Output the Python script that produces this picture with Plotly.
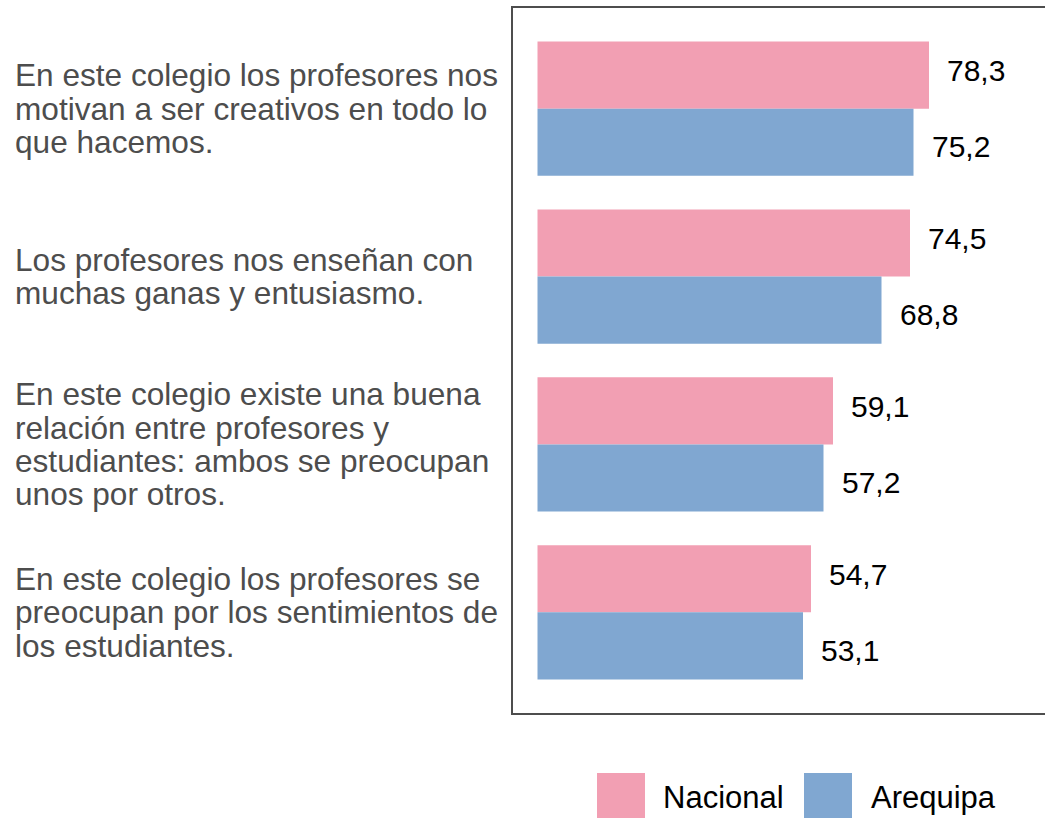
import plotly.graph_objects as go

# Survey items (wrapped lines joined with <br>)
categories = [
    "En este colegio los profesores nos<br>motivan a ser creativos en todo lo<br>que hacemos.",
    "Los profesores nos enseñan con<br>muchas ganas y entusiasmo.",
    "En este colegio existe una buena<br>relación entre profesores y<br>estudiantes: ambos se preocupan<br>unos por otros.",
    "En este colegio los profesores se<br>preocupan por los sentimientos de<br>los estudiantes.",
]
series_names = ["Nacional", "Arequipa"]
nacional = [78.3, 74.5, 59.1, 54.7]
arequipa = [75.2, 68.8, 57.2, 53.1]

COLORS = ["#F29FB3", "#80A7D1"]
FONT = "Liberation Sans, Arial, sans-serif"

W, H = 1045, 818
L, R, T, B = 513, 0, 8, 105
PW, PH = W - L - R, H - T - B


def px_x(px):
    return (px - L) / PW


def px_y(py):
    return (H - B - py) / PH


fig = go.Figure()
series = [nacional, arequipa]
for name, vals, col in zip(series_names, series, COLORS):
    fig.add_trace(go.Bar(
        y=categories, x=vals, orientation="h", name=name,
        marker=dict(color=col, line=dict(width=0)),
        showlegend=False, hoverinfo="x+name",
    ))

annotations = []
# value labels to the right of each bar, nudged slightly away from the group centre
for s, vals in enumerate(series):
    offset = -0.225 if s == 0 else 0.225
    for i, v in enumerate(vals):
        annotations.append(dict(
            x=v, y=i + offset, xref="x", yref="y",
            text=f"{v:.1f}".replace(".", ","),
            showarrow=False, xanchor="left", yanchor="middle", xshift=16,
            font=dict(family=FONT, size=30, color="#000000"),
        ))

# category labels, one annotation per wrapped line
LINE_H = 33.3
for i, cat in enumerate(categories):
    lines = cat.split("<br>")
    n = len(lines)
    for j, line in enumerate(lines):
        annotations.append(dict(
            x=px_x(13), xref="paper", y=i, yref="y",
            yshift=-(j - (n - 1) / 2) * LINE_H,
            text=line, showarrow=False, xanchor="left", yanchor="middle",
            font=dict(family=FONT, size=31.6, color="#4D4D4D"),
        ))

# legend: swatches + names
shapes = []
legend_items = [(597, 661), (804, 869)]
for (sx, tx), name, col in zip(legend_items, series_names, COLORS):
    shapes.append(dict(
        type="rect", xref="paper", yref="paper",
        x0=px_x(sx), x1=px_x(sx + 48), y0=px_y(773), y1=px_y(821),
        fillcolor=col, line=dict(width=0),
    ))
    annotations.append(dict(
        x=px_x(tx), y=px_y(797), xref="paper", yref="paper",
        text=name, showarrow=False, xanchor="left", yanchor="middle",
        font=dict(family=FONT, size=31, color="#000000"),
    ))

fig.update_layout(
    width=W, height=H,
    margin=dict(l=L, r=R, t=T, b=B, pad=0),
    paper_bgcolor="white", plot_bgcolor="white",
    barmode="group", bargap=0.2, bargroupgap=0,
    annotations=annotations, shapes=shapes,
    xaxis=dict(range=[-4.9, 101.5], showgrid=False, zeroline=False,
               showticklabels=False, ticks="", showline=True, mirror=True,
               linecolor="#4D4D4D", linewidth=1.5),
    yaxis=dict(type="category", categoryorder="array", categoryarray=categories,
               range=[3.6, -0.6], showgrid=False, zeroline=False,
               showticklabels=False, ticks="", showline=True, mirror=False,
               linecolor="#4D4D4D", linewidth=1.5),
    showlegend=False,
)

fig.write_html("out.html")
